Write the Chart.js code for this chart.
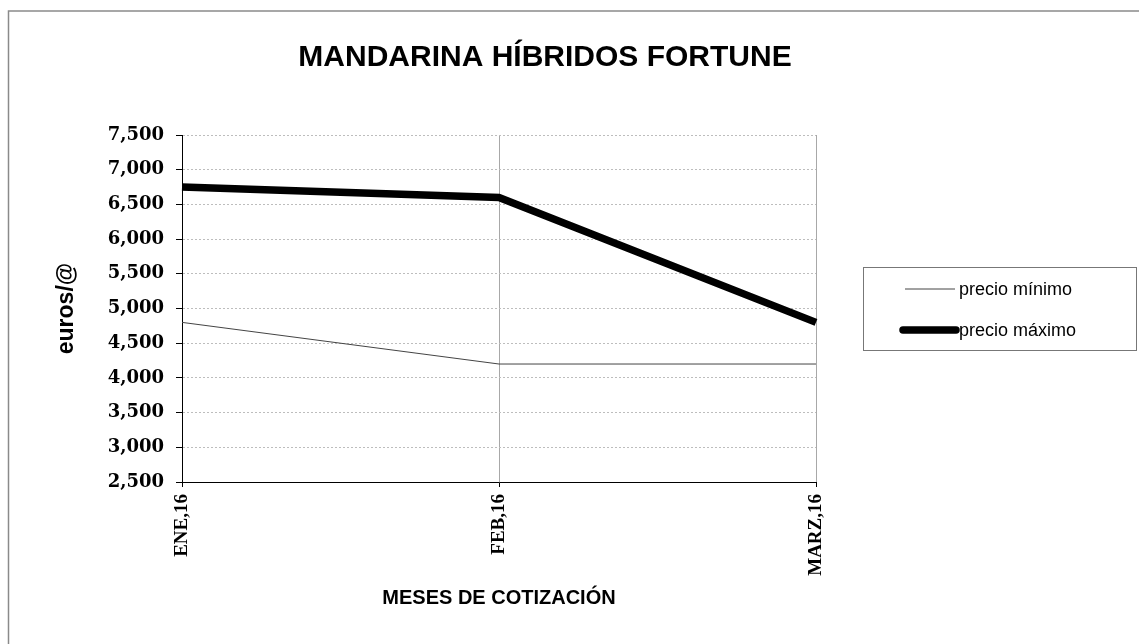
<!DOCTYPE html>
<html lang="es">
<head>
    <meta charset="UTF-8">
    <title>Mandarina Híbridos Fortune</title>
    <style>
        html, body { margin: 0; padding: 0; background: #fff; }
        .container { width: 1139px; height: 644px; position: relative; }
    </style>
</head>
<body>
    <div class="container">
        <canvas id="graficaMandarina" width="1139" height="644"></canvas>
    </div>

    <script src="https://cdn.jsdelivr.net/npm/chart.js"></script>
    <script>
        // datos
        const titulo = 'MANDARINA HÍBRIDOS FORTUNE';
        const meses = ['ENE,16', 'FEB,16', 'MARZ,16'];
        const precioMinimo = [4.8, 4.2, 4.2];
        const precioMaximo = [6.75, 6.6, 4.8];
        const ticksEuros = [2.5, 3, 3.5, 4, 4.5, 5, 5.5, 6, 6.5, 7, 7.5];

        // marco, título y leyenda dibujados a mano
        const extras = {
            id: 'extras',
            afterDraw(chart) {
                const ctx = chart.ctx;
                ctx.save();
                ctx.strokeStyle = '#8a8a8a';
                ctx.lineWidth = 1.5;
                ctx.strokeRect(8.5, 11, 2000, 2000);

                ctx.fillStyle = '#000';
                ctx.font = 'bold 30px "Liberation Sans", Arial, sans-serif';
                ctx.textAlign = 'center';
                ctx.textBaseline = 'middle';
                ctx.fillText(titulo, 545, 58);

                ctx.strokeStyle = '#777';
                ctx.lineWidth = 1;
                ctx.strokeRect(863.5, 267.5, 273, 83);

                const filas = [
                    { y: 289, x0: 905, x1: 955 },
                    { y: 330, x0: 903, x1: 956 }
                ];
                chart.data.datasets.forEach((ds, i) => {
                    const f = filas[i];
                    ctx.beginPath();
                    ctx.strokeStyle = ds.borderColor;
                    ctx.lineWidth = ds.borderWidth;
                    ctx.lineCap = ds.borderWidth > 2 ? 'round' : 'butt';
                    ctx.moveTo(f.x0, f.y);
                    ctx.lineTo(f.x1, f.y);
                    ctx.stroke();
                    ctx.fillStyle = '#000';
                    ctx.font = '18px "Liberation Sans", Arial, sans-serif';
                    ctx.textAlign = 'left';
                    ctx.textBaseline = 'middle';
                    ctx.fillText(ds.label, 959, f.y + 1);
                });
                ctx.restore();
            }
        };

        const ctx = document.getElementById('graficaMandarina').getContext('2d');
        const grafica = new Chart(ctx, {
            type: 'line',
            data: {
                labels: meses,
                datasets: [{
                    label: 'precio mínimo',
                    data: precioMinimo,
                    borderColor: '#444444',
                    borderWidth: 1,
                    pointRadius: 0,
                    tension: 0
                }, {
                    label: 'precio máximo',
                    data: precioMaximo,
                    borderColor: '#000000',
                    borderWidth: 7.5,
                    pointRadius: 0,
                    tension: 0
                }]
            },
            options: {
                responsive: false,
                animation: false,
                layout: {
                    padding: { top: 135, left: 40, right: 323, bottom: 0 }
                },
                plugins: {
                    legend: { display: false },
                    title: { display: false },
                    tooltip: { enabled: false }
                },
                scales: {
                    x: {
                        offset: false,
                        afterFit(scale) { scale.height = 162; },
                        grid: {
                            color: '#a8a8a8',
                            tickColor: '#000',
                            tickLength: 5
                        },
                        border: { color: '#000', width: 1 },
                        ticks: {
                            minRotation: 90,
                            maxRotation: 90,
                            padding: 7,
                            color: '#000',
                            font: { family: '"Liberation Serif", "Times New Roman", serif', size: 19, weight: 'bold' }
                        },
                        title: {
                            display: true,
                            text: 'MESES DE COTIZACIÓN',
                            color: '#000',
                            padding: { top: 0, bottom: 34 },
                            font: { family: '"Liberation Sans", Arial, sans-serif', size: 20, weight: 'bold' }
                        }
                    },
                    y: {
                        min: 2.5,
                        max: 7.5,
                        afterFit(scale) { scale.width = 142; },
                        afterBuildTicks(scale) {
                            scale.ticks = ticksEuros.map(v => ({ value: v }));
                        },
                        grid: {
                            color: '#bdbdbd',
                            tickColor: '#000',
                            tickBorderDash: [],
                            tickLength: 6
                        },
                        border: { color: '#000', width: 1, dash: [2, 2] },
                        ticks: {
                            padding: 12,
                            color: '#000',
                            font: { family: '"DejaVu Serif", serif', size: 18, weight: 'bold' },
                            callback: v => v.toFixed(3).replace('.', ',')
                        },
                        title: {
                            display: true,
                            text: 'euros/@',
                            color: '#000',
                            padding: { top: 13, bottom: 0 },
                            font: { family: '"Liberation Sans", Arial, sans-serif', size: 23, weight: 'bold' }
                        }
                    }
                }
            },
            plugins: [extras]
        });
    </script>
</body>
</html>
